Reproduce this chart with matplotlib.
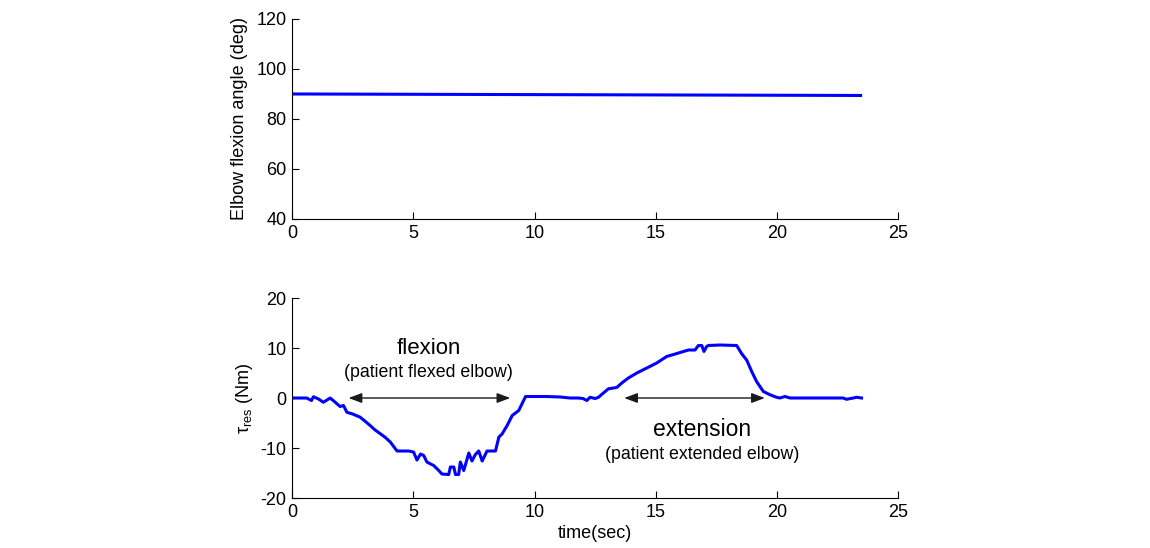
import matplotlib.pyplot as plt

plt.rcParams['font.family'] = ['Liberation Sans', 'DejaVu Sans']
plt.rcParams['mathtext.fontset'] = 'custom'
plt.rcParams['mathtext.rm'] = 'Liberation Sans'
plt.rcParams['mathtext.it'] = 'Liberation Sans:italic'
plt.rcParams['axes.unicode_minus'] = False

# elbow angle (top)
t_angle = [0, 23.45]
angle = [90.0, 89.4]

# resistive torque (bottom)
t_tau = [0, 0.6, 0.8, 0.88, 1.09, 1.29, 1.57, 1.78, 1.98, 2.12, 2.26, 2.5, 2.81, 3.0,
         3.22, 3.4, 3.64, 3.85, 4.05, 4.33, 4.81, 5.01, 5.15, 5.3, 5.43, 5.56, 5.84,
         6.05, 6.18, 6.46, 6.53, 6.67, 6.74, 6.87, 6.94, 7.08, 7.29, 7.42, 7.56, 7.70,
         7.84, 8.04, 8.39, 8.53, 8.66, 8.87, 9.08, 9.35, 9.63,
         10.5, 11.06, 11.47, 11.81, 12.0, 12.16, 12.29, 12.5, 12.64, 12.84, 13.05,
         13.39, 13.6, 13.87, 14.22, 14.63, 15.04, 15.45, 15.87, 16.14, 16.35, 16.62,
         16.76, 16.9, 16.99, 17.1, 17.17, 17.65, 18.34, 18.54, 18.75, 18.96, 19.16,
         19.44, 19.71, 19.99, 20.12, 20.33, 20.54, 22.73, 22.87, 23.15, 23.28, 23.49]
tau = [0, 0, -0.5, 0.25, -0.2, -0.85, 0, -0.85, -1.7, -1.5, -2.85, -3.2, -3.85, -4.6,
       -5.5, -6.3, -7.15, -7.9, -8.8, -10.6, -10.6, -10.8, -12.4, -11.2, -11.5, -12.8, -13.5,
       -14.5, -15.2, -15.3, -13.8, -13.8, -15.3, -15.3, -12.8, -14.5, -11.0, -12.6, -11.3, -10.6,
       -12.6, -10.6, -10.6, -7.8, -7.2, -5.5, -3.5, -2.5, 0.3,
       0.3, 0.2, 0.0, 0.0, -0.1, -0.5, 0.15, -0.1, 0.15, 1.0, 1.85,
       2.1, 3.0, 4.0, 5.0, 6.0, 7.0, 8.3, 8.9, 9.3, 9.6, 9.6,
       10.5, 10.5, 9.3, 10.3, 10.5, 10.6, 10.5, 8.9, 7.6, 5.3, 3.3,
       1.3, 0.66, 0.13, 0.0, 0.3, 0.0, 0.0, -0.25, 0.0, 0.15, 0.0]

x_ticks = [0, 5, 10, 15, 20, 25]

fig = plt.figure(figsize=(11.5, 5.48), dpi=100)
ax1 = fig.add_axes([0.254, 0.6004, 0.527, 0.365])
ax2 = fig.add_axes([0.254, 0.0912, 0.527, 0.365])

for ax in (ax1, ax2):
    ax.spines['top'].set_visible(False)
    ax.spines['right'].set_visible(False)
    ax.tick_params(direction='in', length=5, labelsize=13, pad=4)
    ax.set_xlim(0, 25)
    ax.set_xticks(x_ticks)

ax1.plot(t_angle, angle, color='#0000ff', lw=2.2)
ax1.set_ylim(40, 120)
ax1.set_yticks([40, 60, 80, 100, 120])
ax1.set_ylabel('Elbow flexion angle (deg)', fontsize=13, labelpad=6)

ax2.plot(t_tau, tau, color='#0000ff', lw=2.2)
ax2.set_ylim(-20, 20)
ax2.set_yticks([-20, -10, 0, 10, 20])
ax2.set_ylabel(r'$\mathregular{\tau_{res}}$ (Nm)', fontsize=13, labelpad=4)
ax2.set_xlabel('time(sec)', fontsize=13, labelpad=3)

arrow = dict(arrowstyle='<|-|>,head_length=0.8,head_width=0.3', color='#1a1a1a', lw=1,
             shrinkA=0, shrinkB=0)
ax2.annotate('', xy=(2.33, 0), xytext=(9.0, 0), arrowprops=arrow)
ax2.annotate('', xy=(13.7, 0), xytext=(19.5, 0), arrowprops=arrow)

ax2.text(5.63, 9.9, 'flexion', fontsize=16, ha='center', va='center')
ax2.text(5.63, 5.2, '(patient flexed elbow)', fontsize=12.8, ha='center', va='center')
ax2.text(16.9, -6.2, 'extension', fontsize=16.5, ha='center', va='center')
ax2.text(16.9, -11.2, '(patient extended elbow)', fontsize=12.8, ha='center', va='center')

fig.savefig('out.png', dpi=100)
